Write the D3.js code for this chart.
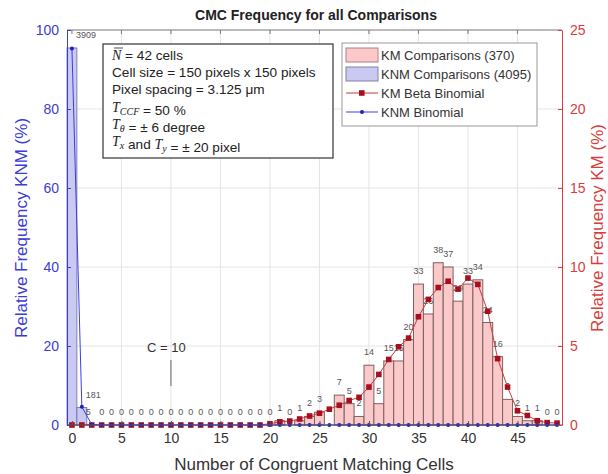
<!DOCTYPE html>
<html>
<head>
<meta charset="utf-8">
<script src="https://cdn.jsdelivr.net/npm/d3@7"></script>
<style>
  body { margin: 0; background: #fff; }
  svg { font-family: "Liberation Sans", Arial, sans-serif; }
</style>
</head>
<body>
<div id="chart"></div>
<script>
// number of congruent matching cells (bins)
const cells = [0,1,2,3,4,5,6,7,8,9,10,11,12,13,14,15,16,17,18,19,20,21,22,23,24,
  25,26,27,28,29,30,31,32,33,34,35,36,37,38,39,40,41,42,43,44,45,46,47,48,49];
// KM counts (total 370)
const kmCounts = [0,0,0,0,0,0,0,0,0,0,0,0,0,0,0,0,0,0,0,0,0,1,0,1,2,
  3,0,7,5,2,14,5,15,15,20,33,26,38,37,29,33,34,24,16,6,2,1,1,0,0];
// KNM counts (total 4095)
const knmCounts = [3909,181,5,0,0,0,0,0,0,0,0,0,0,0,0,0,0,0,0,0,0,0,0,0,0,
  0,0,0,0,0,0,0,0,0,0,0,0,0,0,0,0,0,0,0,0,0,0,0,0,0];
const kmTotal = 370;
const knmTotal = 4095;
// fitted curves, in percent
const kmBeta = [0,0,0,0,0,0,0,0,0,0,0,0,0,0,0,0,0,0,0,0,0.08,0.2,0.25,0.38,0.57,
  0.75,1.0,1.25,1.55,1.75,2.4,3.2,4.15,4.95,5.5,6.85,7.95,8.7,9.1,8.6,9.3,8.9,7.2,4.2,2.4,
  0.9,0.6,0.27,0.15,0.12];
const knmBinom = [95.3,4.6,0.1,0,0,0,0,0,0,0,0,0,0,0,0,0,0,0,0,0,0,0,0,0,0,
  0,0,0,0,0,0,0,0,0,0,0,0,0,0,0,0,0,0,0,0,0,0,0,0,0];

const xTicks = [0,5,10,15,20,25,30,35,40,45];
const leftTicks = [0,20,40,60,80,100];
const rightTicks = [0,5,10,15,20,25];

const infoLines = ["N = 42 cells", "Cell size = 150 pixels x 150 pixels", "Pixel spacing = 3.125 μm",
  "T_CCF = 50 %", "T_θ = ± 6 degree", "T_x and T_y = ± 20 pixel"];
const legendNames = ["KM Comparisons (370)", "KNM Comparisons (4095)", "KM Beta Binomial", "KNM Binomial"];

const W = 608, H = 474;
const blue = "#3c3cd2", red = "#d83c3c";
const kmPct = kmCounts.map(c => c / kmTotal * 100);
const knmPct = knmCounts.map(c => c / knmTotal * 100);

const svg = d3.select("#chart").append("svg").attr("width", W).attr("height", H);

const x = d3.scaleLinear().domain([-0.5, 49.5]).range([67, 562]);
const yL = d3.scaleLinear().domain([0, 100]).range([425, 30]);
const yR = d3.scaleLinear().domain([0, 25]).range([425, 30]);
const bw = x(1) - x(0);

// grid
svg.append("g").selectAll("line").data(xTicks.filter(d => d > 0)).join("line")
  .attr("x1", d => x(d)).attr("x2", d => x(d)).attr("y1", 30).attr("y2", 425)
  .attr("stroke", "#e4e4e4");
svg.append("g").selectAll("line").data(leftTicks.filter(d => d > 0 && d < 100)).join("line")
  .attr("x1", 67).attr("x2", 562).attr("y1", d => yL(d)).attr("y2", d => yL(d))
  .attr("stroke", "#e4e4e4");

// KNM bars
svg.append("g").selectAll("rect").data(cells.filter(i => knmCounts[i] > 0)).join("rect")
  .attr("x", i => x(i) - bw / 2).attr("width", bw)
  .attr("y", i => yL(knmPct[i])).attr("height", i => yL(0) - yL(knmPct[i]))
  .attr("fill", "#c9c9f2").attr("stroke", "#6a6aa8").attr("stroke-width", 0.8);

// KM bars
svg.append("g").selectAll("rect").data(cells.filter(i => kmCounts[i] > 0)).join("rect")
  .attr("x", i => x(i) - bw / 2).attr("width", bw)
  .attr("y", i => yR(kmPct[i])).attr("height", i => yR(0) - yR(kmPct[i]))
  .attr("fill", "#fbc9c9").attr("stroke", "#7d6060").attr("stroke-width", 1);

// count labels
svg.append("g").selectAll("text").data(cells.filter(i => i >= 3 && i !== 26)).join("text")
  .attr("x", i => x(i)).attr("y", i => yR(kmPct[i]) - 10)
  .attr("text-anchor", "middle").attr("font-size", 9).attr("fill", "#555")
  .text(i => kmCounts[i]);
svg.append("g").selectAll("text").data(cells.filter(i => knmCounts[i] > 0)).join("text")
  .attr("x", i => x(i) + (i < 2 ? 4 : -6)).attr("y", i => yL(knmPct[i]) - 10)
  .attr("font-size", 9).attr("fill", "#555")
  .text(i => knmCounts[i]);

// KM beta binomial
svg.append("path").datum(cells)
  .attr("d", d3.line().x(i => x(i)).y(i => yR(kmBeta[i])))
  .attr("fill", "none").attr("stroke", "#c83c3c").attr("stroke-width", 1);
svg.append("g").selectAll("rect").data(cells).join("rect")
  .attr("x", i => x(i) - 2.8).attr("y", i => yR(kmBeta[i]) - 2.8)
  .attr("width", 5.6).attr("height", 5.6).attr("fill", "#a80f1e");

// KNM binomial
svg.append("path").datum(cells)
  .attr("d", d3.line().x(i => x(i)).y(i => yL(knmBinom[i])))
  .attr("fill", "none").attr("stroke", "#3c3cf0").attr("stroke-width", 1);
svg.append("g").selectAll("circle").data(cells).join("circle")
  .attr("cx", i => x(i)).attr("cy", i => yL(knmBinom[i]))
  .attr("r", 2).attr("fill", "#2020c0");

// box frame
svg.append("line").attr("x1", 67).attr("x2", 562).attr("y1", 30).attr("y2", 30).attr("stroke", "#777");
svg.append("line").attr("x1", 67).attr("x2", 562).attr("y1", 425).attr("y2", 425).attr("stroke", "#555");

// x axis
const xAxis = svg.append("g").attr("transform", "translate(0,425)")
  .call(d3.axisBottom(x).tickValues(xTicks).tickSizeInner(-4).tickSizeOuter(0).tickPadding(8));
xAxis.select(".domain").remove();
xAxis.selectAll("line").attr("stroke", "#555");
xAxis.selectAll("text").attr("font-size", 14).attr("fill", "#333");
svg.append("g").selectAll("line").data(xTicks).join("line")
  .attr("x1", d => x(d)).attr("x2", d => x(d)).attr("y1", 30).attr("y2", 34).attr("stroke", "#777");

// left axis
const yAxisL = svg.append("g").attr("transform", "translate(67,0)")
  .call(d3.axisLeft(yL).tickValues(leftTicks).tickSizeInner(-4).tickSizeOuter(0).tickPadding(8));
yAxisL.select(".domain").attr("stroke", blue);
yAxisL.selectAll("line").attr("stroke", blue);
yAxisL.selectAll("text").attr("font-size", 14).attr("fill", blue);

// right axis
const yAxisR = svg.append("g").attr("transform", "translate(562,0)")
  .call(d3.axisRight(yR).tickValues(rightTicks).tickSizeInner(-4).tickSizeOuter(0).tickPadding(8));
yAxisR.select(".domain").attr("stroke", red);
yAxisR.selectAll("line").attr("stroke", red);
yAxisR.selectAll("text").attr("font-size", 14).attr("fill", red);

// titles
svg.append("text").attr("x", 316).attr("y", 20).attr("text-anchor", "middle")
  .attr("font-size", 14).attr("font-weight", "bold").attr("fill", "#222")
  .text("CMC Frequency for all Comparisons");
svg.append("text").attr("x", 314).attr("y", 470).attr("text-anchor", "middle")
  .attr("font-size", 17).attr("fill", "#333")
  .text("Number of Congruent Matching Cells");
svg.append("text").attr("transform", "translate(27,228) rotate(-90)").attr("text-anchor", "middle")
  .attr("font-size", 17).attr("fill", blue).text("Relative Frequency KNM (%)");
svg.append("text").attr("transform", "translate(603,228) rotate(-90)").attr("text-anchor", "middle")
  .attr("font-size", 17).attr("fill", red).text("Relative Frequency KM (%)");

// C = 10 annotation
svg.append("text").attr("x", 147).attr("y", 352).attr("font-size", 13).attr("fill", "#333").text("C = 10");
svg.append("line").attr("x1", x(10)).attr("x2", x(10)).attr("y1", 360).attr("y2", 386)
  .attr("stroke", "#666");

// info box
const info = svg.append("g");
info.append("rect").attr("x", 103).attr("y", 44).attr("width", 230).attr("height", 114)
  .attr("fill", "#fff").attr("stroke", "#333").attr("stroke-width", 1.2);
const tx = 112, ty0 = 60, dy = 17.2;
const serif = "'Liberation Serif', 'DejaVu Serif', serif";
function mathT(t, base, sub) {
  t.append("tspan").attr("font-family", serif).attr("font-style", "italic").attr("font-size", 14).text(base);
  t.append("tspan").attr("font-family", serif).attr("font-style", "italic").attr("font-size", 10)
    .attr("dy", 3).text(sub);
  t.append("tspan").attr("dy", -3).text("");
}
infoLines.forEach((s, k) => {
  const t = info.append("text").attr("x", tx).attr("y", ty0 + k * dy).attr("font-size", 13.6).attr("fill", "#222");
  if (k === 0) {
    t.append("tspan").attr("font-family", serif).attr("font-style", "italic").attr("font-size", 14).text("N");
    t.append("tspan").text(s.slice(1));
    info.append("line").attr("x1", tx + 2).attr("x2", tx + 11).attr("y1", ty0 - 12).attr("y2", ty0 - 12)
      .attr("stroke", "#222").attr("stroke-width", 0.8);
  } else if (k === 3) {
    mathT(t, "T", "CCF"); t.append("tspan").text(" = 50 %");
  } else if (k === 4) {
    mathT(t, "T", "θ"); t.append("tspan").text(" = ± 6 degree");
  } else if (k === 5) {
    mathT(t, "T", "x"); t.append("tspan").text(" and ");
    mathT(t, "T", "y"); t.append("tspan").text(" = ± 20 pixel");
  } else {
    t.text(s);
  }
});

// legend
const lg = svg.append("g");
lg.append("rect").attr("x", 342).attr("y", 43).attr("width", 195).attr("height", 83)
  .attr("fill", "#fff").attr("stroke", "#999");
const rowY = [55, 74, 93, 112];
lg.append("rect").attr("x", 346).attr("y", rowY[0] - 7).attr("width", 32).attr("height", 14)
  .attr("fill", "#fbc9c9").attr("stroke", "#b08080");
lg.append("rect").attr("x", 346).attr("y", rowY[1] - 7).attr("width", 32).attr("height", 14)
  .attr("fill", "#c9c9f2").attr("stroke", "#8080b0");
lg.append("line").attr("x1", 346).attr("x2", 378).attr("y1", rowY[2]).attr("y2", rowY[2]).attr("stroke", "#c83c3c");
lg.append("rect").attr("x", 359).attr("y", rowY[2] - 2.8).attr("width", 5.6).attr("height", 5.6).attr("fill", "#a80f1e");
lg.append("line").attr("x1", 346).attr("x2", 378).attr("y1", rowY[3]).attr("y2", rowY[3]).attr("stroke", "#3c3cf0");
lg.append("circle").attr("cx", 362).attr("cy", rowY[3]).attr("r", 2).attr("fill", "#2020c0");
lg.selectAll("text.lt").data(legendNames).join("text").attr("class", "lt")
  .attr("x", 381).attr("y", (d, k) => rowY[k] + 4.5).attr("font-size", 13).attr("fill", "#333")
  .text(d => d);
</script>
</body>
</html>
